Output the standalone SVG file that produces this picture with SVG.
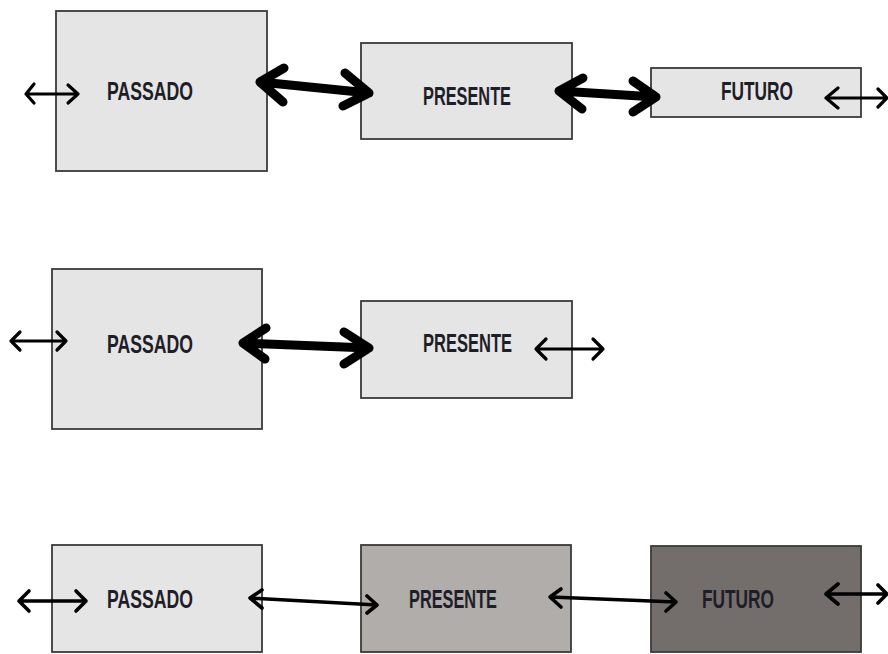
<svg xmlns="http://www.w3.org/2000/svg" width="888" height="654" viewBox="0 0 888 654">
<style>
.box{stroke:#3a3a3a;stroke-width:1.8}
.l{fill:#e6e5e6}
.m{fill:#b0adab}
.d{fill:#736d6c}
.t{font-family:"Liberation Sans Narrow","Liberation Sans",Arial,sans-serif;font-weight:bold;font-size:26px;fill:#1e1e28}
.a{fill:none;stroke:#000;stroke-linecap:round;stroke-linejoin:round}
.thin{stroke-width:3.2}
.mid{stroke-width:3.6}
.thick{stroke-width:9}
</style>
<rect width="888" height="654" fill="#fff"/>
<g id="r1-passado"><rect class="box l" x="56" y="11" width="211" height="160"/><text class="t" x="107" y="100" textLength="86" lengthAdjust="spacingAndGlyphs">PASSADO</text></g>
<g id="r1-presente"><rect class="box l" x="361" y="43" width="211" height="96"/><text class="t" x="423" y="105" textLength="88" lengthAdjust="spacingAndGlyphs">PRESENTE</text></g>
<g id="r1-futuro"><rect class="box l" x="651" y="68" width="210" height="49"/><text class="t" x="721" y="100" textLength="72" lengthAdjust="spacingAndGlyphs">FUTURO</text></g>
<g id="r2-passado"><rect class="box l" x="52" y="269" width="210" height="160"/><text class="t" x="107" y="353" textLength="86" lengthAdjust="spacingAndGlyphs">PASSADO</text></g>
<g id="r2-presente"><rect class="box l" x="361" y="301" width="211" height="97"/><text class="t" x="423" y="352" textLength="89" lengthAdjust="spacingAndGlyphs">PRESENTE</text></g>
<g id="r3-passado"><rect class="box l" x="52" y="545" width="210" height="107"/><text class="t" x="107" y="608" textLength="86" lengthAdjust="spacingAndGlyphs">PASSADO</text></g>
<g id="r3-presente"><rect class="box m" x="361" y="545" width="210" height="107"/><text class="t" x="409" y="608" textLength="88" lengthAdjust="spacingAndGlyphs">PRESENTE</text></g>
<g id="r3-futuro"><rect class="box d" x="651" y="546" width="210" height="106"/><text class="t" x="702" y="608" textLength="72" lengthAdjust="spacingAndGlyphs">FUTURO</text></g>
<g id="connectors">
<path class="a thin" d="M26 94 L78 94 M34 84 L26 94 L34 103 M68 85 L78 94 L68 103"/>
<path class="a thick" d="M260 82 L369 93 M284 68 L260 82 L283 102 M345 73 L369 93 L343 106"/>
<path class="a thick" d="M559 91 L656 97 M583 78 L559 91 L582 109 M633 81 L656 97 L633 112"/>
<path class="a thin" d="M826 98 L887 98 M838 88 L826 98 L838 108 M878 89 L887 98 L878 107"/>
<path class="a thin" d="M11 341 L66 341 M20 332 L11 341 L20 350 M57 332 L66 341 L57 350"/>
<path class="a thick" d="M243 343 L369 348 M266 328 L243 343 L265 359 M344 332 L369 348 L344 364"/>
<path class="a thin" d="M536 349 L603 349 M546 339 L536 349 L546 359 M593 339 L603 349 L593 359"/>
<path class="a mid" d="M19 601 L86 601 M29 591 L19 601 L29 611 M76 591 L86 601 L76 611"/>
<path class="a mid" d="M250 598 L377 605 M262 590 L250 598 L262 608 M367 596 L377 605 L367 613"/>
<path class="a mid" d="M550 597 L676 602 M561 589 L550 597 L561 607 M666 593 L676 602 L666 611"/>
<path class="a mid" d="M826 594 L887 594 M838 584 L826 594 L838 604 M878 585 L887 594 L878 603"/>
</g>
</svg>
